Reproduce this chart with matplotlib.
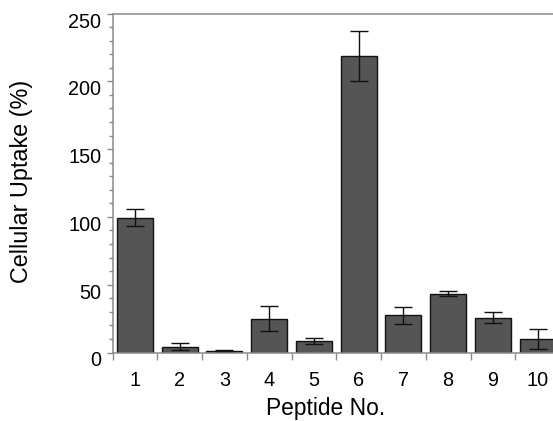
import matplotlib
matplotlib.use("Agg")
import matplotlib.pyplot as plt
import matplotlib.transforms as mtrans
import numpy as np

peptides = ["1", "2", "3", "4", "5", "6", "7", "8", "9", "10"]
uptake = [99.5, 4.2, 1.2, 25.0, 8.7, 218.5, 27.5, 43.5, 25.8, 10.0]
errors = [6.2, 2.7, 0.4, 9.5, 2.1, 18.5, 6.2, 2.2, 4.0, 7.6]

plt.rcParams['font.family'] = ['Liberation Sans', 'DejaVu Sans']

W, H = 553, 421
fig = plt.figure(figsize=(W / 100, H / 100), dpi=100)
left, right, bottom, top = 112.5, 560, 352.5, 13.5
ax = fig.add_axes([left / W, (H - bottom) / H, (right - left) / W, (bottom - top) / H])

x = np.arange(1, len(peptides) + 1)
ax.bar(x, uptake, width=0.8, color='#555555', edgecolor='#111111', linewidth=1.0, zorder=2)
ax.errorbar(x, uptake, yerr=errors, fmt='none', ecolor='#111111', elinewidth=1.0,
            capsize=6.2, capthick=1.0, zorder=3)

ax.set_xlim(0.5, 10.5)
ax.set_ylim(0, 250)

grey = '#8a8a8a'
for s in ['left', 'bottom', 'top']:
    ax.spines[s].set_color(grey)
    ax.spines[s].set_linewidth(1.1)
ax.spines['right'].set_visible(False)

ax.set_yticks(np.arange(0, 251, 50))
ax.set_yticks(np.arange(0, 251, 10), minor=True)
ax.tick_params(axis='y', which='major', direction='out', length=4.5, width=1, color=grey,
               labelsize=14.3, pad=3.5)
ax.tick_params(axis='y', which='minor', direction='out', length=2.8, width=1, color=grey)
off = mtrans.ScaledTranslation(0, -6.5 / 100, fig.dpi_scale_trans)
for lab in ax.get_yticklabels():
    lab.set_transform(lab.get_transform() + off)

ax.set_xticks(x)
ax.set_xticklabels(peptides)
ax.set_xticks(np.arange(0.5, 10.6, 1), minor=True)
ax.tick_params(axis='x', which='major', length=0, labelsize=14.3, pad=13)
ax.tick_params(axis='x', which='minor', direction='out', length=5, width=1, color=grey)

ax.set_xlabel('Peptide No.', fontsize=16.4)
ax.xaxis.set_label_coords((326 - left) / (right - left), -(409 - bottom) / (bottom - top), transform=ax.transAxes)
ax.xaxis.label.set_va('center')
ax.set_ylabel('Cellular Uptake (%)', fontsize=16.8)
ax.yaxis.set_label_coords(-(left - 22) / (right - left), (bottom - 181) / (bottom - top), transform=ax.transAxes)
ax.yaxis.label.set_va('center')

fig.savefig('out.png', dpi=100)
